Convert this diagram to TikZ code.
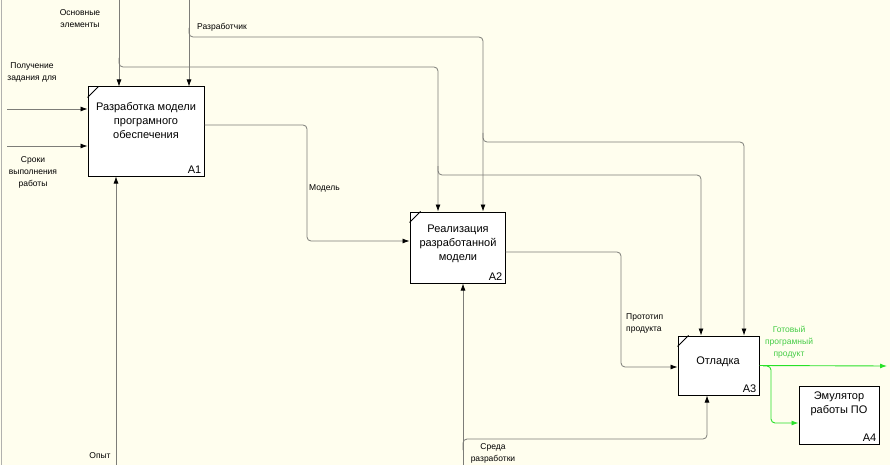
\documentclass[tikz,border=0pt]{standalone}
\usepackage{fontspec}
\setmainfont{Liberation Sans}
\usetikzlibrary{arrows.meta}
\definecolor{bg}{RGB}{255,254,238}
\definecolor{ln}{RGB}{125,125,120}
\definecolor{grn}{RGB}{40,225,40}
\definecolor{grt}{RGB}{70,205,70}
\begin{document}
\begin{tikzpicture}[x=1pt,y=-1pt,
  box/.style={draw=black,fill=white,line width=1pt,inner sep=0pt},
  conn/.style={draw=ln,line width=0.8pt,rounded corners=4pt},
  arr/.style={-{Latex[length=7pt,width=5pt,color=black]}},
  garr/.style={draw=grn,line width=0.9pt,rounded corners=4pt,-{Latex[length=7pt,width=5pt]}},
  big/.style={font=\fontsize{11}{14}\selectfont,align=center,inner sep=0pt},
  num/.style={font=\fontsize{11}{13}\selectfont,anchor=south east,inner sep=3pt},
  small/.style={font=\fontsize{8.5}{12}\selectfont,align=center,inner sep=0pt},
  cornermark/.style={draw=black,line width=0.8pt}]
\fill[bg] (0,0) rectangle (890,465);
\useasboundingbox (0,0) rectangle (890,465);
\draw[ln!60,line width=0.6pt] (1,0) -- (1,465);

% boxes
\node[box,minimum width=116pt,minimum height=89pt] (A1) at (146,131.5) {};
\node[box,minimum width=95pt,minimum height=71pt] (A2) at (457.5,247.5) {};
\node[box,minimum width=81pt,minimum height=59pt] (A3) at (718.5,365.5) {};
\node[box,minimum width=80pt,minimum height=58pt] (A4) at (839,415) {};

\draw[cornermark] ([yshift=-11pt]A1.north west) -- ([xshift=11pt]A1.north west);
\draw[cornermark] ([yshift=-11pt]A2.north west) -- ([xshift=11pt]A2.north west);
\draw[cornermark] ([yshift=-11pt]A3.north west) -- ([xshift=11pt]A3.north west);

\node[big] (A1t) at (146,121) {Разработка модели\\програмного\\обеспечения};
\node[big] (A2t) at (458,244) {Реализация\\разработанной\\модели};
\node[big] (A3t) at (718,362) {Отладка};
\node[big] (A4t) at (839,404) {Эмулятор\\работы ПО};
\node[num] (A1n) at (A1.south east) {A1};
\node[num] (A2n) at (A2.south east) {A2};
\node[num] (A3n) at (A3.south east) {A3};
\node[num] (A4n) at (A4.south east) {A4};

% coordinates
\coordinate (ctlA) at (119,0);
\coordinate (ctlB) at (189,0);
\coordinate (jA) at (119,58);
\coordinate (kA) at (438,67);
\coordinate (jA2) at (438,166);
\coordinate (kA2) at (701,175);
\coordinate (jB) at (189,28);
\coordinate (kB) at (483,37);
\coordinate (jB2) at (483,133);
\coordinate (kB2) at (744,142);
\coordinate (inA) at (7,109);
\coordinate (inB) at (7,146);
\coordinate (mechA) at (116,465);
\coordinate (mechB) at (463,465);
\coordinate (jS) at (463,450);
\coordinate (kS) at (707,439);
\coordinate (mdl) at (307,180);
\coordinate (pr) at (621,300);
\coordinate (outEnd) at (887,366);
\coordinate (gj) at (763,366);
\coordinate (gk) at (771,400);

% connectors
\draw[conn,arr] (ctlA) -- (ctlA |- A1.north);
\draw[conn,arr] (ctlB) -- (ctlB |- A1.north);
\draw[conn,arr] (jA) |- (kA) -- (kA |- A2.north);
\draw[conn,arr] (jA2) |- (kA2) -- (kA2 |- A3.north);
\draw[conn,arr] (jB) |- (kB) -- (kB |- A2.north);
\draw[conn,arr] (jB2) |- (kB2) -- (kB2 |- A3.north);
\draw[conn,arr] (inA) -- (inA -| A1.west);
\draw[conn,arr] (inB) -- (inB -| A1.west);
\draw[conn,arr] ([yshift=6.5pt]A1.east) -| (mdl) |- ([yshift=6.5pt]A2.west);
\draw[conn,arr] ([yshift=-4.5pt]A2.east) -| (pr) |- ([yshift=-1.5pt]A3.west);
\draw[conn,arr] (mechA) -- (mechA |- A1.south);
\draw[conn,arr] (mechB) -- (mechB |- A2.south);
\draw[conn,arr] (jS) |- (kS) -- (kS |- A3.south);
\draw[garr] (A3.east) -- (outEnd);
\draw[garr] (gj) -| (gk) |- ([yshift=-8pt]A4.west);

% labels
\node[small] (lOsn) at (80,19) {Основные\\элементы};
\node[small,anchor=west] (lRaz) at (197,27) {Разработчик};
\node[small] (lPol) at (32,72) {Получение\\задания для};
\node[small] (lSro) at (33,172) {Сроки\\выполнения\\работы};
\node[small,anchor=west] (lMod) at (309,188) {Модель};
\node[small,anchor=west,align=left] (lPro) at (626,323) {Прототип\\продукта};
\node[small,text=grt] (lGot) at (789,342) {Готовый\\програмный\\продукт};
\node[small] (lSre) at (493,453) {Среда\\разработки};
\node[small] (lOpy) at (100,456) {Опыт};
\end{tikzpicture}
\end{document}
